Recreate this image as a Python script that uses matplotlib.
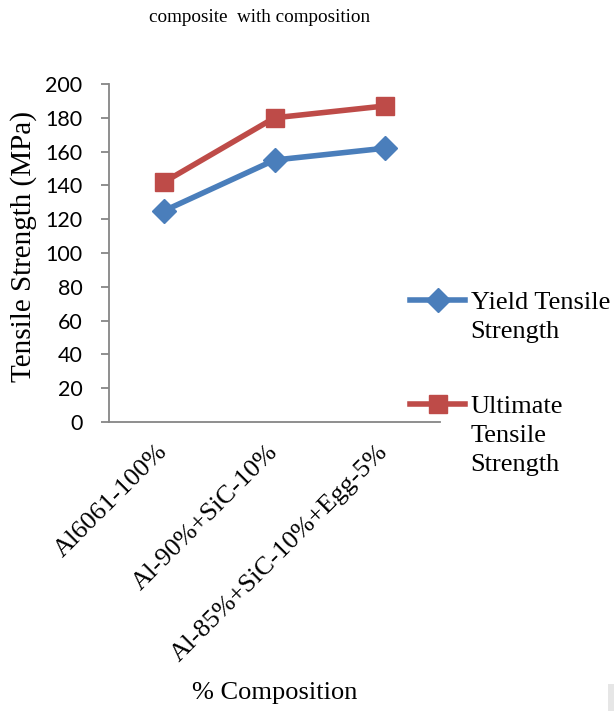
import matplotlib
matplotlib.use("Agg")
import matplotlib.pyplot as plt
from matplotlib.patches import Rectangle
from matplotlib.lines import Line2D
import matplotlib.transforms as mtransforms

categories = ["Al6061-100%", "Al-90%+SiC-10%", "Al-85%+SiC-10%+Egg-5%"]
yield_strength = [125, 155, 162]
ultimate_strength = [142, 180, 187]
yticks = [0, 20, 40, 60, 80, 100, 120, 140, 160, 180, 200]
legend_yield = ["Yield Tensile", "Strength"]
legend_ult = ["Ultimate", "Tensile", "Strength"]

serif = "Liberation Serif"
sans = "Lato"
BLUE = "#4A7EBB"
RED = "#BE4B48"

fig = plt.figure(figsize=(6.14, 7.11), dpi=100)
ax = fig.add_axes([109/614, 1-422/711, (440-109)/614, (422-84)/711])

x = list(range(len(categories)))
l1, = ax.plot(x, yield_strength, color=BLUE, lw=4, marker="D", ms=12)
l2, = ax.plot(x, ultimate_strength, color=RED, lw=4, marker="s", ms=13.5)

ax.set_xlim(-0.5, len(categories) - 0.5)
ax.set_ylim(0, 200)
ax.set_yticks(yticks)
ax.set_yticklabels([str(v) for v in yticks], fontfamily=sans, fontsize=15.5)
ax.set_xticks(x)
ax.set_xticklabels(categories, fontfamily=serif, fontsize=19, rotation=45,
                   ha="right", va="center", rotation_mode="anchor")
off = mtransforms.ScaledTranslation(8/100, 0, fig.dpi_scale_trans)
for lab in ax.get_xticklabels():
    lab.set_transform(lab.get_transform() + off)
ax.tick_params(axis="x", length=0, pad=19)
ax.tick_params(axis="y", length=6, color="#868686", width=1.3, pad=13)
for s in ["top", "right"]:
    ax.spines[s].set_visible(False)
for s in ["left", "bottom"]:
    ax.spines[s].set_color("#868686")
    ax.spines[s].set_linewidth(1.3)

fig.text(24/614, 1-246/711, "Tensile Strength (MPa)", rotation=90, ha="center",
         va="center", fontfamily=serif, fontsize=21)
fig.text(275/614, 1-693/711, "% Composition", ha="center", va="center",
         fontfamily=serif, fontsize=19)
fig.text(260/614, 1-17/711, "composite  with composition", ha="center",
         va="center", fontfamily=serif, fontsize=13.8)

blank = Line2D([], [], linestyle="none")
common = dict(loc="upper left", frameon=False, prop={"family": serif, "size": 19},
              handlelength=2.1, handletextpad=0.2, labelspacing=0.2,
              borderaxespad=0, borderpad=0)
leg1 = fig.legend(handles=[l1] + [blank] * (len(legend_yield) - 1),
                  labels=legend_yield, bbox_to_anchor=(410/614, 1-291/711), **common)
leg2 = fig.legend(handles=[l2] + [blank] * (len(legend_ult) - 1),
                  labels=legend_ult, bbox_to_anchor=(410/614, 1-395/711), **common)

fig.patches.append(Rectangle((608/614, 0), 6/614, 27/711, transform=fig.transFigure,
                             facecolor="#e6e6e6", edgecolor="none"))

fig.savefig("out.png", dpi=100)
